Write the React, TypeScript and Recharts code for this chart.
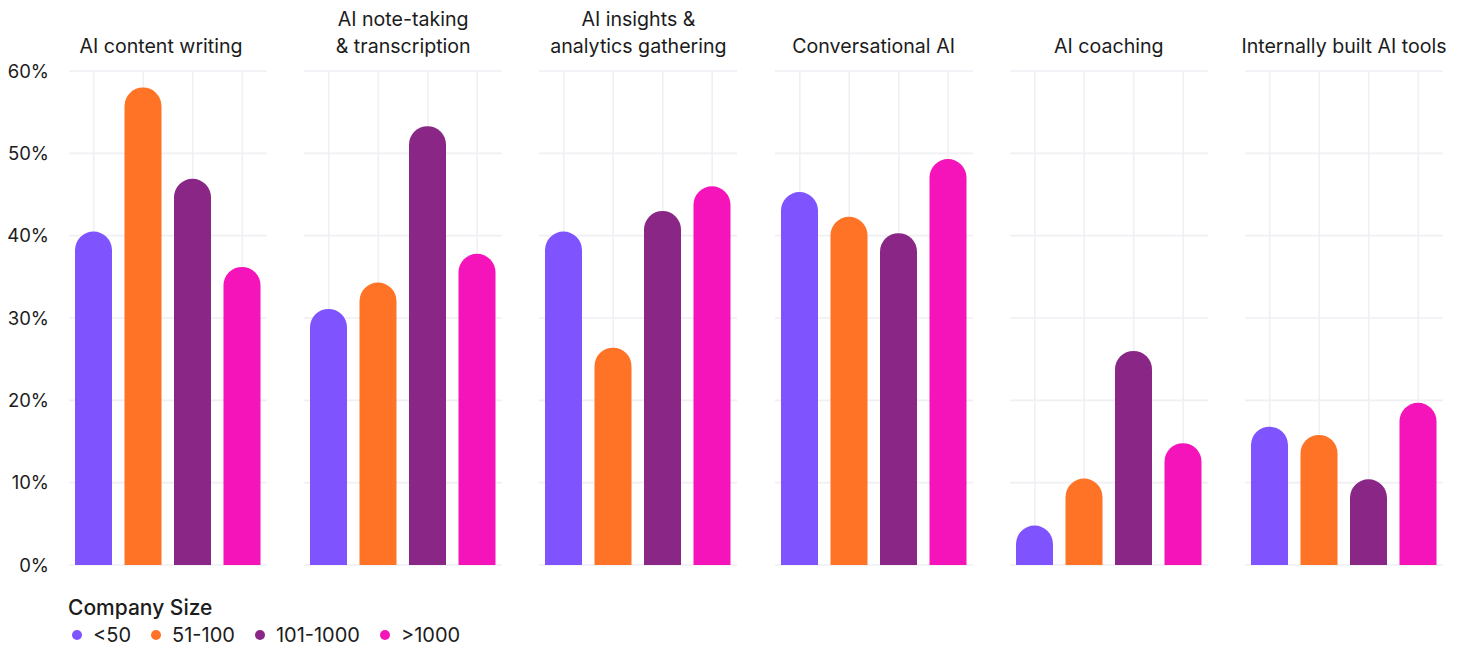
import React from 'react';
import { BarChart, Bar, XAxis, YAxis, CartesianGrid, Cell } from 'recharts';

// Company size buckets (x categories within each panel)
const sizes = ['<50', '51-100', '101-1000', '>1000'];
const sizeColors = ['#7F54FF', '#FF7327', '#8A2686', '#F514BA'];

// Panel titles (one or two lines each)
const panelTitles = [
  ['AI content writing'],
  ['AI note-taking', '& transcription'],
  ['AI insights &', 'analytics gathering'],
  ['Conversational AI'],
  ['AI coaching'],
  ['Internally built AI tools'],
];

// Share of respondents (%) per company size, one array per tool type
const contentWriting = [40.5, 58.0, 46.9, 36.2];
const noteTaking = [31.1, 34.3, 53.3, 37.8];
const insightsAnalytics = [40.5, 26.4, 43.0, 46.0];
const conversationalAI = [45.3, 42.3, 40.3, 49.3];
const coaching = [4.8, 10.5, 26.0, 14.8];
const internalTools = [16.8, 15.8, 10.4, 19.7];

const panelValues = [contentWriting, noteTaking, insightsAnalytics, conversationalAI, coaching, internalTools];

const yTicks = [0, 10, 20, 30, 40, 50, 60];
const legendTitle = 'Company Size';

const FONT = 'Inter, "Noto Sans", sans-serif';
const TEXT = '#1c1c1c';
const GRID = '#efeff4';

const PLOT_W = 198;
const PLOT_TOP = 71;
const PLOT_BOTTOM = 565;
const H = 647;
const FIRST_LEFT = 69;
const STRIDE = 235.2;
const AXIS_W = 69;

// Vertical grid lines through the centre of each size band only
const bandCentres = ({ xAxis }: any) => {
  const sc = xAxis && xAxis.scale;
  if (!sc) return [];
  const apply = (v: string) => (typeof sc === 'function' ? sc(v) : sc.map(v));
  const bw = typeof sc.bandwidth === 'function' ? sc.bandwidth() : 0;
  return sizes.map((s) => apply(s) + bw / 2).filter((x) => Number.isFinite(x));
};

export default function App() {
  return (
    <div style={{ position: 'absolute', left: 0, top: 0, width: 1463, height: 647, background: '#fff', fontFamily: FONT, color: TEXT }}>
      {panelValues.map((vals, i) => {
        const data = sizes.map((s, k) => ({ size: s, value: vals[k] }));
        const left = FIRST_LEFT + i * STRIDE;
        const withAxis = i === 0;
        const chartLeft = withAxis ? left - AXIS_W : left;
        const chartW = withAxis ? PLOT_W + AXIS_W : PLOT_W;
        const titleShift = i === 0 ? -7 : 0;
        return (
          <React.Fragment key={i}>
            <div
              style={{
                position: 'absolute',
                left: left - 30 + titleShift,
                width: PLOT_W + 60,
                top: panelTitles[i].length === 2 ? 6 : 33,
                textAlign: 'center',
                fontSize: 19.6,
                lineHeight: '27px',
                whiteSpace: 'nowrap',
              }}
            >
              {panelTitles[i].map((t, j) => (
                <div key={j}>{t}</div>
              ))}
            </div>
            <div style={{ position: 'absolute', left: chartLeft, top: 0 }}>
              <BarChart
                width={chartW}
                height={H}
                data={data}
                margin={{ top: PLOT_TOP, bottom: H - PLOT_BOTTOM, left: 0, right: 0 }}
                barCategoryGap={0}
              >
                <CartesianGrid stroke={GRID} strokeWidth={1.6} verticalCoordinatesGenerator={bandCentres} />
                <XAxis dataKey="size" hide />
                <YAxis
                  hide={!withAxis}
                  width={AXIS_W}
                  domain={[0, 60]}
                  ticks={yTicks}
                  interval={0}
                  axisLine={false}
                  tickLine={false}
                  tickSize={0}
                  tickMargin={20}
                  tickFormatter={(v: number) => `${v}%`}
                  tick={{ fill: TEXT, fontSize: 18.5, fontFamily: FONT }}
                />
                <Bar dataKey="value" barSize={37} radius={[18.5, 18.5, 0, 0]} isAnimationActive={false}>
                  {data.map((d, k) => (
                    <Cell key={d.size} fill={sizeColors[k]} />
                  ))}
                </Bar>
              </BarChart>
            </div>
          </React.Fragment>
        );
      })}
      <div style={{ position: 'absolute', left: 68, top: 594 }}>
        <div style={{ fontSize: 21, fontWeight: 500, lineHeight: '27px' }}>{legendTitle}</div>
        <div style={{ display: 'flex', alignItems: 'center', fontSize: 20, lineHeight: '28px', marginLeft: 4 }}>
          {sizes.map((s, k) => (
            <div key={s} style={{ display: 'flex', alignItems: 'center', marginRight: 20 }}>
              <span style={{ display: 'inline-block', width: 10, height: 10, borderRadius: '50%', background: sizeColors[k], marginRight: 11 }} />
              <span>{s}</span>
            </div>
          ))}
        </div>
      </div>
    </div>
  );
}
